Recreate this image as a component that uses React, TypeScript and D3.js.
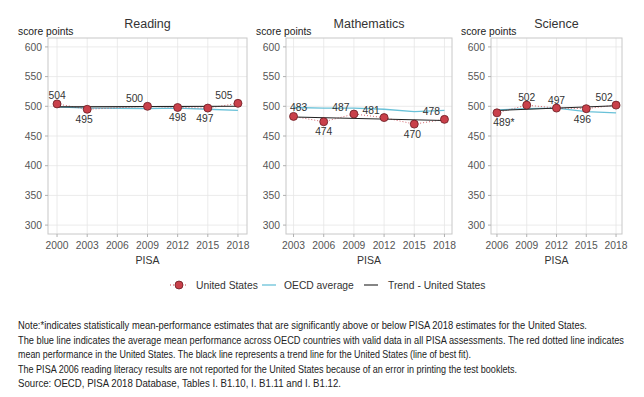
import React from 'react'
import * as d3 from 'd3'

// PISA trends for the United States
const subjects = ['Reading', 'Mathematics', 'Science']

const readingYears = [2000, 2003, 2009, 2012, 2015, 2018]
const readingUS = [504, 495, 500, 498, 497, 505]
const readingLabels = ['504', '495', '500', '498', '497', '505']
const readingOECD = [499, 497, 496, 497, 495, 493]
const readingTrend = [499, 500]
const readingTicks = [2000, 2003, 2006, 2009, 2012, 2015, 2018]

const mathYears = [2003, 2006, 2009, 2012, 2015, 2018]
const mathUS = [483, 474, 487, 481, 470, 478]
const mathLabels = ['483', '474', '487', '481', '470', '478']
const mathOECD = [498, 497, 497, 495, 491, 493]
const mathTrend = [482, 476]
const mathTicks = [2003, 2006, 2009, 2012, 2015, 2018]

const scienceYears = [2006, 2009, 2012, 2015, 2018]
const scienceUS = [489, 502, 497, 496, 502]
const scienceLabels = ['489*', '502', '497', '496', '502']
const scienceOECD = [494, 496, 497, 491, 489]
const scienceTrend = [493, 501]
const scienceTicks = [2006, 2009, 2012, 2015, 2018]

const yTicks = [300, 350, 400, 450, 500, 550, 600]

const legendItems = ['United States', 'OECD average', 'Trend - United States']

const notes = [
  'Note:*indicates statistically mean-performance estimates that are significantly above or below PISA 2018 estimates for the United States.',
  'The blue line indicates the average mean performance across OECD countries with valid data in all PISA assessments. The red dotted line indicates',
  'mean performance in the United States. The black line represents a trend line for the United States (line of best fit).',
  'The PISA 2006 reading literacy results are not reported for the United States because of an error in printing the test booklets.',
  'Source: OECD, PISA 2018 Database, Tables I. B1.10, I. B1.11 and I. B1.12.'
]

const FONT = '"Liberation Sans", Arial, sans-serif'
const RED = '#c9404a'
const CYAN = '#69c1d8'
const NOTE_SQUEEZE = 0.8

// label offsets per point (layout only)
const labelOffsets = [
  [[0, -9], [-3, 10], [-13, -8], [0, 10], [-3, 10], [-14, -8]],
  [[5, -9], [0, 10], [-13, -7], [-13, -7], [-2, 10], [-13, -8]],
  [[7, 10], [0, -8], [0, -8], [-4, 11], [-12, -8]]
]
const frames = [[48, 247], [286, 452], [491, 622]]
const top = 38
const bottom = 234

const panels = [
  {years: readingYears, us: readingUS, labels: readingLabels, oecd: readingOECD, trend: readingTrend, ticks: readingTicks},
  {years: mathYears, us: mathUS, labels: mathLabels, oecd: mathOECD, trend: mathTrend, ticks: mathTicks},
  {years: scienceYears, us: scienceUS, labels: scienceLabels, oecd: scienceOECD, trend: scienceTrend, ticks: scienceTicks}
]

function Panel ({idx}: {idx: number}) {
  const p = panels[idx]
  const [left, right] = frames[idx]
  const lo = p.ticks[0]
  const hi = p.ticks[p.ticks.length - 1]
  const pad = (hi - lo) * 0.05
  const x = d3.scaleLinear().domain([lo - pad, hi + pad]).range([left, right])
  const y = d3.scaleLinear().domain([285, 615]).range([bottom, top])
  const line = d3.line<[number, number]>().x(d => x(d[0])).y(d => y(d[1]))
  const usPts = p.years.map((yr, i) => [yr, p.us[i]] as [number, number])
  const oecdPts = p.years.map((yr, i) => [yr, p.oecd[i]] as [number, number])
  const trendPts: [number, number][] = [[p.years[0], p.trend[0]], [p.years[p.years.length - 1], p.trend[1]]]
  return (
    <g>
      {yTicks.map(t => (
        <line key={'gy' + t} x1={left} x2={right} y1={y(t)} y2={y(t)} stroke='#e6e6e6' strokeWidth={0.8}/>
      ))}
      {p.ticks.map(t => (
        <line key={'gx' + t} x1={x(t)} x2={x(t)} y1={top} y2={bottom} stroke='#e6e6e6' strokeWidth={0.8}/>
      ))}
      <rect x={left} y={top} width={right - left} height={bottom - top} fill='none' stroke='#c8c8c8' strokeWidth={1}/>
      {yTicks.map(t => (
        <g key={'ty' + t}>
          <line x1={left - 3} x2={left} y1={y(t)} y2={y(t)} stroke='#b0b0b0'/>
          <text x={left - 6} y={y(t)} dy='0.35em' textAnchor='end' fontSize={10.3} fill='#555'>{t}</text>
        </g>
      ))}
      {p.ticks.map(t => (
        <g key={'tx' + t}>
          <line x1={x(t)} x2={x(t)} y1={bottom} y2={bottom + 3} stroke='#b0b0b0'/>
          <text x={x(t)} y={249} textAnchor='middle' fontSize={10.3} fill='#555'>{t}</text>
        </g>
      ))}
      <text x={(left + right) / 2} y={264} textAnchor='middle' fontSize={10.5} fill='#333'>PISA</text>
      <text x={(left + right) / 2} y={28} textAnchor='middle' fontSize={12.5} fill='#333'>{subjects[idx]}</text>
      <text x={left - 30} y={35} fontSize={10.3} fill='#222'>score points</text>
      <path d={line(oecdPts) || ''} fill='none' stroke={CYAN} strokeWidth={1.3}/>
      <path d={line(usPts) || ''} fill='none' stroke={RED} strokeWidth={1} strokeDasharray='1,2' opacity={0.8}/>
      <path d={line(trendPts) || ''} fill='none' stroke='#222' strokeWidth={1.1}/>
      {usPts.map((d, i) => (
        <circle key={'c' + i} cx={x(d[0])} cy={y(d[1])} r={4} fill={RED} stroke='#6a1c22' strokeWidth={0.8}/>
      ))}
      {usPts.map((d, i) => (
        <text key={'l' + i} x={x(d[0]) + labelOffsets[idx][i][0]} y={y(d[1]) + labelOffsets[idx][i][1]} dy='0.35em'
          textAnchor='middle' fontSize={10.3} fill='#333'>{p.labels[i]}</text>
      ))}
    </g>
  )
}

export default function App () {
  const ly = 285
  return (
    <div style={{margin: -8}}>
      <svg width={644} height={397} style={{display: 'block', background: '#fff', fontFamily: FONT}}>
        {panels.map((_, i) => <Panel key={i} idx={i}/>)}
        <g>
          <line x1={170} x2={188} y1={ly} y2={ly} stroke={RED} strokeDasharray='1,2'/>
          <circle cx={179} cy={ly} r={4} fill={RED} stroke='#6a1c22' strokeWidth={0.8}/>
          <text x={196} y={ly} dy='0.35em' fontSize={10.3} fill='#333'>{legendItems[0]}</text>
          <line x1={262} x2={276} y1={ly} y2={ly} stroke={CYAN} strokeWidth={1.3}/>
          <text x={284} y={ly} dy='0.35em' fontSize={10.3} fill='#333'>{legendItems[1]}</text>
          <line x1={364} x2={378} y1={ly} y2={ly} stroke='#222' strokeWidth={1.1}/>
          <text x={388} y={ly} dy='0.35em' fontSize={10.3} fill='#333'>{legendItems[2]}</text>
        </g>
        {notes.map((n, i) => (
          <g key={i} transform={`translate(18,${329 + i * 14.5}) scale(${NOTE_SQUEEZE},1)`}>
            <text x={0} y={0} fontSize={10} fill='#222'
              textLength={[569, 606, 453, 499, 323][i] / NOTE_SQUEEZE} lengthAdjust='spacingAndGlyphs'>{n}</text>
          </g>
        ))}
      </svg>
    </div>
  )
}
